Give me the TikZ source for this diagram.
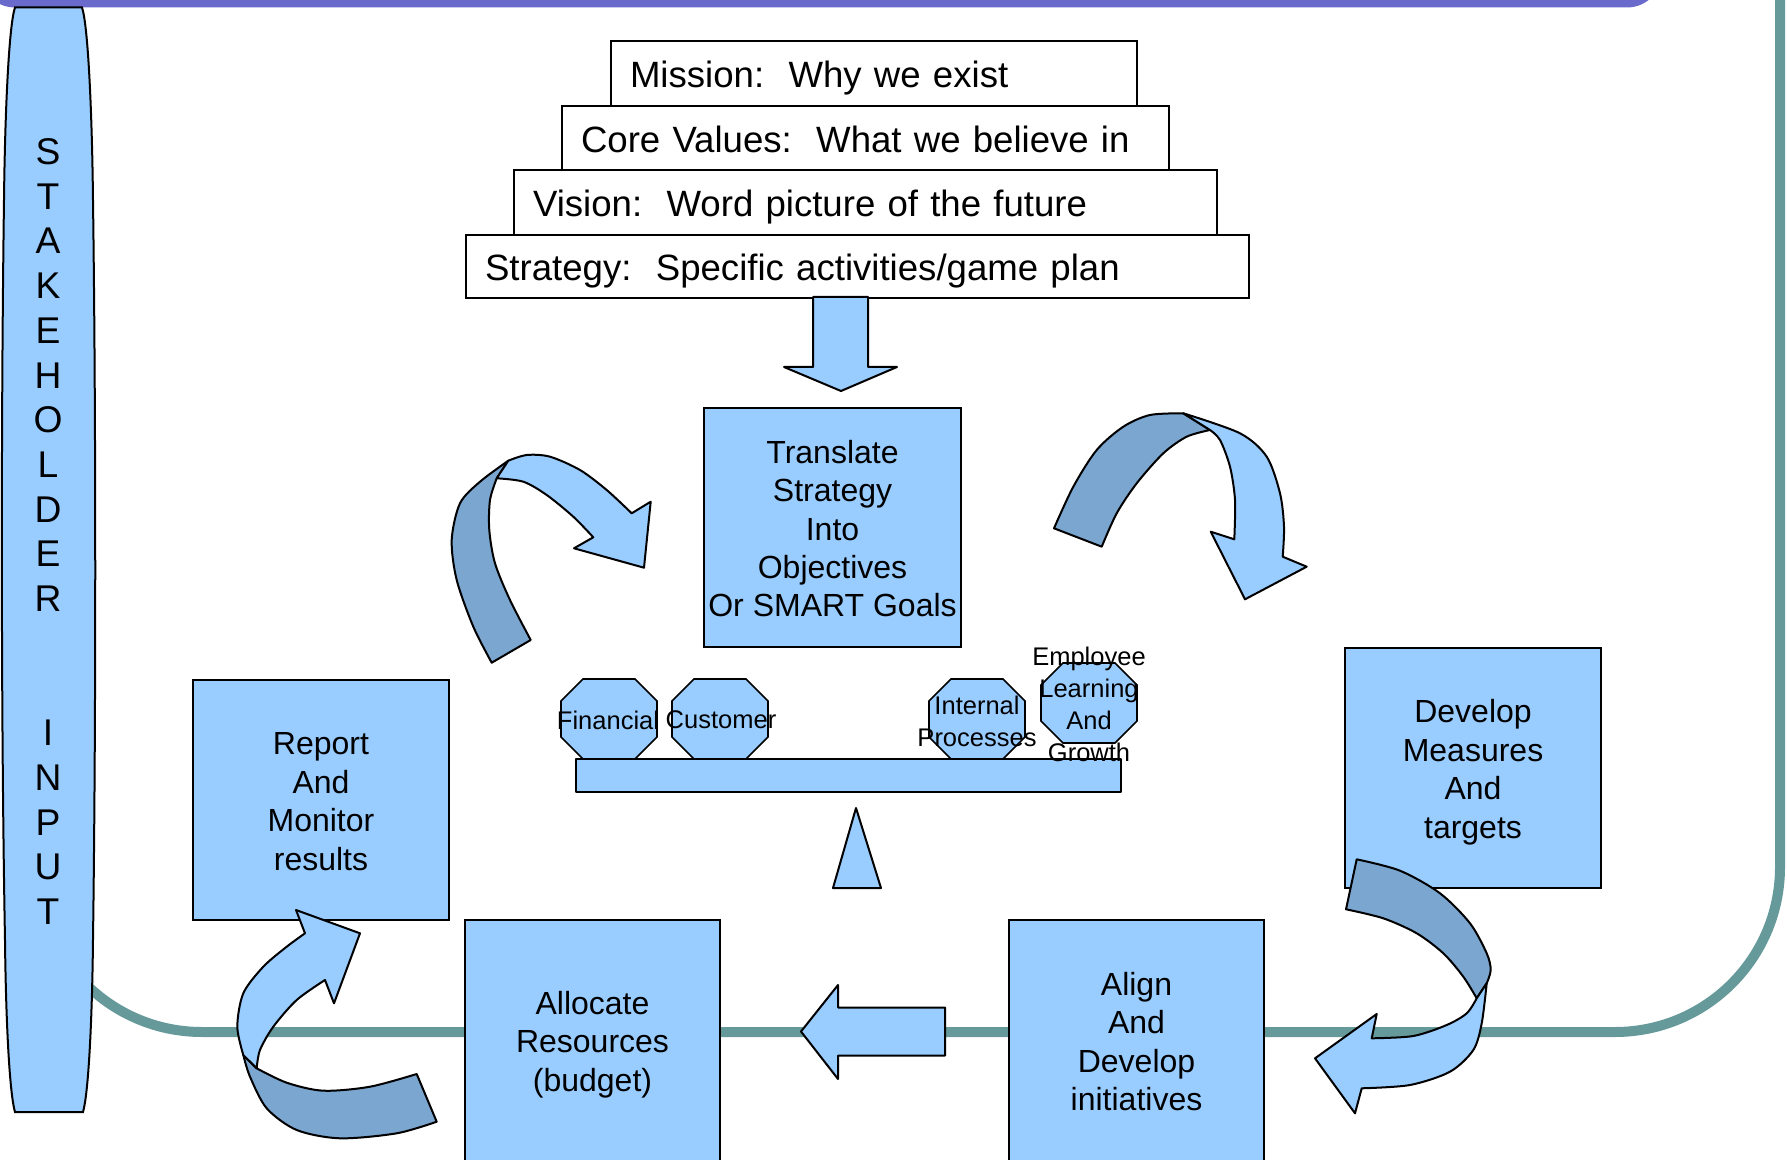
\documentclass[tikz,border=0pt]{standalone}
\usepackage{fontspec}
\setmainfont{Liberation Sans}
\definecolor{lb}{RGB}{153,204,255}
\definecolor{db}{RGB}{122,166,208}
\definecolor{framecol}{RGB}{102,153,153}
\definecolor{barcol}{RGB}{106,106,204}
\newcommand\fs{\rule[-0.2em]{0pt}{1.185em}}
\newcommand\octagonat[1]{\draw[octo,shift={#1}] (-48,-18) -- (-26,-40) -- (26,-40) -- (48,-18) -- (48,18) -- (26,40) -- (-26,40) -- (-48,18) -- cycle;}
\begin{document}
\frenchspacing
\begin{tikzpicture}[x=0.5pt,y=-0.5pt,
  box/.style={draw,line width=1pt,fill=lb,align=center,inner sep=0pt,font=\fontsize{16}{19.2}\selectfont},
  topbox/.style={draw,line width=1pt,fill=white,anchor=north west,align=left,inner xsep=9.5pt,inner ysep=0pt,font=\fontsize{18.3}{22}\selectfont},
  octo/.style={draw,line width=0.8pt,fill=lb},
  octotext/.style={align=center,inner sep=0pt,font=\fontsize{12.75}{16}\selectfont},
  shapeline/.style={draw,line width=1pt,line join=round},
  ribbonlight/.style={shapeline,fill=lb},
  ribbondark/.style={shapeline,fill=db}]
\useasboundingbox (0,0) rectangle (1787,1160);
\clip (0,0) rectangle (1787,1160);
% frame
\draw[framecol,line width=5pt,rounded corners=82.5pt] (37,-400) rectangle (1780,1032);
\fill[barcol,rounded corners=17.5pt] (-20,-60) rectangle (1662,7.5);
% stakeholder
\draw[line width=1pt,fill=lb] (15,7.5) -- (82,7.5) .. controls (88,25) and (92,110) .. (93,200) .. controls (96,420) and (96,720) .. (93,940) .. controls (92,1030) and (88,1095) .. (83,1112) -- (15,1112) .. controls (10,1095) and (6,1030) .. (5,940) .. controls (1,720) and (1,420) .. (4,200) .. controls (5,110) and (9,25) .. (15,7.5) -- cycle;
\node[font=\fontsize{18.6}{22.35}\selectfont,align=center,inner sep=0pt] (stk) at (48,531.5) {S\\T\\A\\K\\E\\H\\O\\L\\D\\E\\R\\\mbox{}\\\mbox{}\\I\\N\\P\\U\\T};
% top boxes
\node[topbox,text width=372.5pt,minimum height=31.5pt] (strategy) at (465,234) {\fs Strategy:\ \ Specific activities/game plan};
\node[topbox,text width=332.5pt,minimum height=32.5pt] (vision) at (513,169) {\fs Vision:\ \ Word picture of the future};
\node[topbox,text width=284.5pt,minimum height=32pt] (core) at (561,105) {\fs Core Values:\ \ What we believe in};
\node[topbox,text width=244pt,minimum height=32.5pt] (mission) at (610,40) {\fs Mission:\ \ Why we exist};
% down block arrow
\draw[shapeline,fill=lb] (813,297) -- (868,297) -- (868,367) -- (897,367) -- (841,391) -- (784,367) -- (813,367) -- cycle;
% boxes
\node[box,minimum width=128.5pt,minimum height=119.5pt] (translate) at (832.5,527.5) {\fs Translate\\\fs Strategy\\\fs Into\\\fs Objectives\\\fs Or SMART Goals};
\node[box,minimum width=128pt,minimum height=120pt] (report) at (321,800) {\fs Report\\\fs And\\\fs Monitor\\\fs results};
\node[box,minimum width=127.5pt,minimum height=121pt] (allocate) at (592.5,1040.5) {\fs Allocate\\\fs Resources\\\fs (budget)};
\node[box,minimum width=127.5pt,minimum height=121pt] (align) at (1136.5,1040.5) {\fs Align\\\fs And\\\fs Develop\\\fs initiatives};
\node[box,minimum width=128pt,minimum height=120pt] (develop) at (1473,768) {\fs Develop\\\fs Measures\\\fs And\\\fs targets};
% left block arrow
\draw[shapeline,fill=lb] (945,1007.5) -- (945,1055.5) -- (838,1055.5) -- (838,1079) -- (801,1031.5) -- (838,985) -- (838,1007.5) -- cycle;
% balance
\octagonat{(609,719)}
\octagonat{(720,719)}
\octagonat{(977,719)}
\octagonat{(1089,703)}
\draw[shapeline,fill=lb] (576,759) rectangle (1121,792);
\draw[shapeline,fill=lb] (856,808) -- (881,888) -- (833,888) -- cycle;
% ribbon A
\draw[ribbondark] plot[smooth] coordinates {(491.7,662.7) (473.3,626.7) (456.7,580) (451.7,540) (460,503.3) (480,481.7) (508.3,460.7)} -- (496.7,478.3) -- plot[smooth] coordinates {(496.7,478.3) (490,500) (489.3,530) (495,563.3) (510,600) (530.7,640)} -- cycle;
\draw[ribbonlight] plot[smooth] coordinates {(508.3,460.7) (526.7,455) (550,456.7) (580,470) (606.7,490) (631.7,513.3)} -- (650.7,501.7) -- (644,567.7) -- (574,548.3) -- (593.3,537.3) -- plot[smooth] coordinates {(593.3,537.3) (573.3,516.7) (546.7,495) (523.3,481.7) (496.7,478.3)} -- cycle;
% ribbon B
\draw[ribbondark] plot[smooth] coordinates {(1054,528.3) (1073.3,486.7) (1096.7,450) (1123.3,426.7) (1150,415) (1183.3,413.3)} -- (1210,430) -- plot[smooth] coordinates {(1210,430) (1186.7,436.7) (1163.3,453.3) (1136.7,483.3) (1116.7,513.3) (1101.7,546.7)} -- cycle;
\draw[ribbonlight] plot[smooth] coordinates {(1183.3,413.3) (1240,433.3) (1266.7,456.7) (1280,493.3) (1284,526.7) (1282.7,556.7)} -- (1306.7,566.7) -- (1245,599.3) -- (1210.7,531.7) -- (1234.3,539.3) -- plot[smooth] coordinates {(1234.3,539.3) (1235,500) (1230,466.7) (1220,440) (1210,430)} -- cycle;
% ribbon C
\draw[ribbondark] plot[smooth] coordinates {(1356.7,859.3) (1400,870.7) (1440,893.3) (1470,923.3) (1486.7,953.3) (1490.7,970) (1486.7,983.3)} -- (1476.7,998.3) -- plot[smooth] coordinates {(1476.7,998.3) (1463.3,976.7) (1443.3,953.3) (1416.7,933.3) (1383.3,918.3) (1346,909.3)} -- cycle;
\draw[ribbonlight] plot[smooth] coordinates {(1486.7,983.3) (1481.7,1023.3) (1473.3,1050) (1450,1071.7) (1410,1085) (1361.7,1088.3)} -- (1355,1113.3) -- (1315,1058.3) -- (1376.7,1014) -- (1371.7,1038.3) -- plot[smooth] coordinates {(1371.7,1038.3) (1413.3,1036) (1446.7,1025) (1466.7,1013.3) (1476.7,998.3)} -- cycle;
% ribbon D
\draw[ribbondark] plot[smooth] coordinates {(436.7,1121.7) (396.7,1133.3) (340,1138.3) (296.7,1130) (266.7,1108.3) (250,1076.7) (243.3,1055)} -- (256.7,1068.3) -- plot[smooth] coordinates {(256.7,1068.3) (286.7,1082.7) (323.3,1090.7) (370,1086.7) (416.7,1074)} -- cycle;
\draw[ribbonlight] plot[smooth] coordinates {(243.3,1055) (237.3,1026.7) (243.3,993.3) (263.3,966.7) (286.7,946.7) (305,933.3)} -- (296,910) -- (360,933.3) -- (334,1003.3) -- (325,980) -- plot[smooth] coordinates {(325,980) (296.7,1000) (273.3,1026.7) (260,1050) (256.7,1068.3)} -- cycle;
% octagon labels
\node[octotext] (fin) at (608,720) {Financial};
\node[octotext] (cust) at (721,720) {Customer};
\node[octotext] (intp) at (977,721) {Internal\\Processes};
\node[octotext] (empl) at (1089,704.5) {Employee\\Learning\\And\\Growth};
\end{tikzpicture}
\end{document}
